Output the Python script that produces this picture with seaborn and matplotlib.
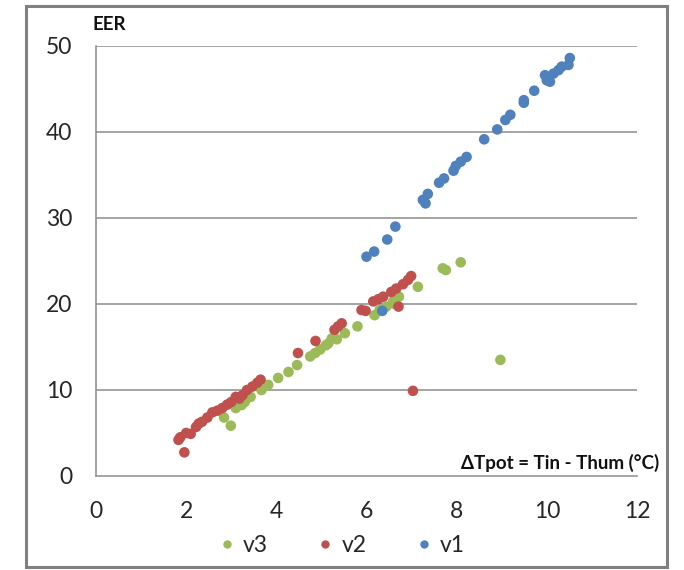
import matplotlib
matplotlib.use("Agg")
import matplotlib.pyplot as plt
from matplotlib.patches import Rectangle
from matplotlib.lines import Line2D
import seaborn as sns
import pandas as pd

# ---- data ----
v3_x = [2.84, 2.99, 3.10, 3.23, 3.30, 3.43, 3.67, 3.82, 4.04, 4.27, 4.46, 4.75, 4.86, 4.97,
        5.10, 5.15, 5.23, 5.34, 5.52, 5.80, 6.18, 6.29, 6.44, 6.59, 6.62, 6.72, 7.14, 7.69,
        7.76, 8.09, 8.97]
v3_y = [6.8, 5.85, 7.9, 8.25, 8.6, 9.2, 10.0, 10.6, 11.4, 12.1, 12.9, 13.9, 14.3, 14.7,
        15.2, 15.4, 16.0, 15.9, 16.6, 17.4, 18.7, 19.3, 19.7, 20.3, 20.0, 20.85, 22.0, 24.15,
        23.95, 24.85, 13.5]

v2_x = [1.83, 1.87, 1.96, 2.00, 2.10, 2.22, 2.28, 2.35, 2.47, 2.58, 2.69, 2.80, 2.91, 3.00,
        3.10, 3.18, 3.25, 3.35, 3.47, 3.58, 3.65, 4.48, 4.87, 5.29, 5.37, 5.45, 5.89, 5.98,
        6.15, 6.26, 6.37, 6.55, 6.66, 6.81, 6.92, 6.99, 6.71, 7.03]
v2_y = [4.2, 4.5, 2.75, 5.0, 4.9, 5.7, 6.1, 6.3, 6.8, 7.4, 7.6, 7.9, 8.3, 8.6,
        9.2, 9.0, 9.4, 10.0, 10.4, 10.85, 11.2, 14.3, 15.7, 17.0, 17.4, 17.75, 19.3, 19.2,
        20.3, 20.55, 20.85, 21.4, 21.8, 22.3, 22.8, 23.25, 19.7, 9.9]

v1_x = [6.00, 6.17, 6.46, 6.64, 6.35, 7.25, 7.31, 7.36, 7.61, 7.72, 7.93, 7.98, 8.09, 8.22,
        8.61, 8.90, 9.08, 9.19, 9.49, 9.49, 9.72, 9.96, 10.00, 10.07, 10.15, 10.26, 10.33,
        10.48, 10.51]
v1_y = [25.5, 26.1, 27.5, 29.0, 19.2, 32.1, 31.7, 32.8, 34.1, 34.6, 35.5, 36.05, 36.55, 37.1,
        39.15, 40.3, 41.4, 42.0, 43.4, 43.7, 44.8, 46.6, 46.0, 45.85, 46.8, 47.2, 47.6,
        47.8, 48.6]

series_names = ["v3", "v2", "v1"]
colors = {"v3": "#9BBB59", "v2": "#C0504D", "v1": "#4F81BD"}
x_ticks = [0, 2, 4, 6, 8, 10, 12]
y_ticks = [0, 10, 20, 30, 40, 50]

df = pd.concat([
    pd.DataFrame({"x": v3_x, "y": v3_y, "s": "v3"}),
    pd.DataFrame({"x": v2_x, "y": v2_y, "s": "v2"}),
    pd.DataFrame({"x": v1_x, "y": v1_y, "s": "v1"}),
], ignore_index=True)

sns.set_theme(style="white")
plt.rcParams["font.family"] = ["Lato", "DejaVu Sans"]

W, H = 684, 570
fig = plt.figure(figsize=(W / 100, H / 100), dpi=100)
ax = fig.add_axes([96 / W, 1 - 476 / H, (637 - 96) / W, (476 - 46) / H])

grid_c = "#8C8C8C"
for yv in y_ticks[1:]:
    ax.axhline(yv, color=grid_c, lw=1.1, zorder=0)

sns.scatterplot(data=df, x="x", y="y", hue="s", hue_order=series_names,
                palette=colors, s=58, linewidth=0, alpha=1.0, ax=ax, legend=False, zorder=3)

ax.set_xlim(0, 12)
ax.set_ylim(0, 50)
ax.set_xticks(x_ticks)
ax.set_yticks(y_ticks)
ax.set_xlabel("")
ax.set_ylabel("")
for side in ["top", "right"]:
    ax.spines[side].set_visible(False)
for side in ["left", "bottom"]:
    ax.spines[side].set_color(grid_c)
    ax.spines[side].set_linewidth(1.1)
ax.tick_params(axis="both", direction="out", length=6, width=1.1, color=grid_c,
               labelsize=16.5, labelcolor="#262626")
ax.tick_params(axis="y", pad=11)
ax.tick_params(axis="x", pad=12)
ax.grid(False)

fig.text(92 / W, 1 - 25 / H, "EER", fontsize=13.5, fontweight="bold",
         ha="left", va="center", color="#111111")
fig.text(659 / W, 1 - 463 / H, "ΔTpot = Tin - Thum (°C)", fontsize=13.5, fontweight="bold",
         ha="right", va="center", color="#111111")

handles = [Line2D([0], [0], marker="o", linestyle="", markersize=6,
                  markerfacecolor=colors[n], markeredgewidth=0, label=n) for n in series_names]
fig.legend(handles=handles, loc="center", bbox_to_anchor=(340 / W, 1 - 546 / H), ncol=3,
           frameon=False, fontsize=16.5, handletextpad=0.2, columnspacing=2.0,
           handlelength=1.0, labelcolor="#262626")

fig.add_artist(Rectangle((26 / W, 1 - 567 / H), (667 - 26) / W, (567 - 6) / H,
                         transform=fig.transFigure, fill=False, edgecolor="#808080", lw=2.2))

fig.savefig("out.png", dpi=100, facecolor="white")
